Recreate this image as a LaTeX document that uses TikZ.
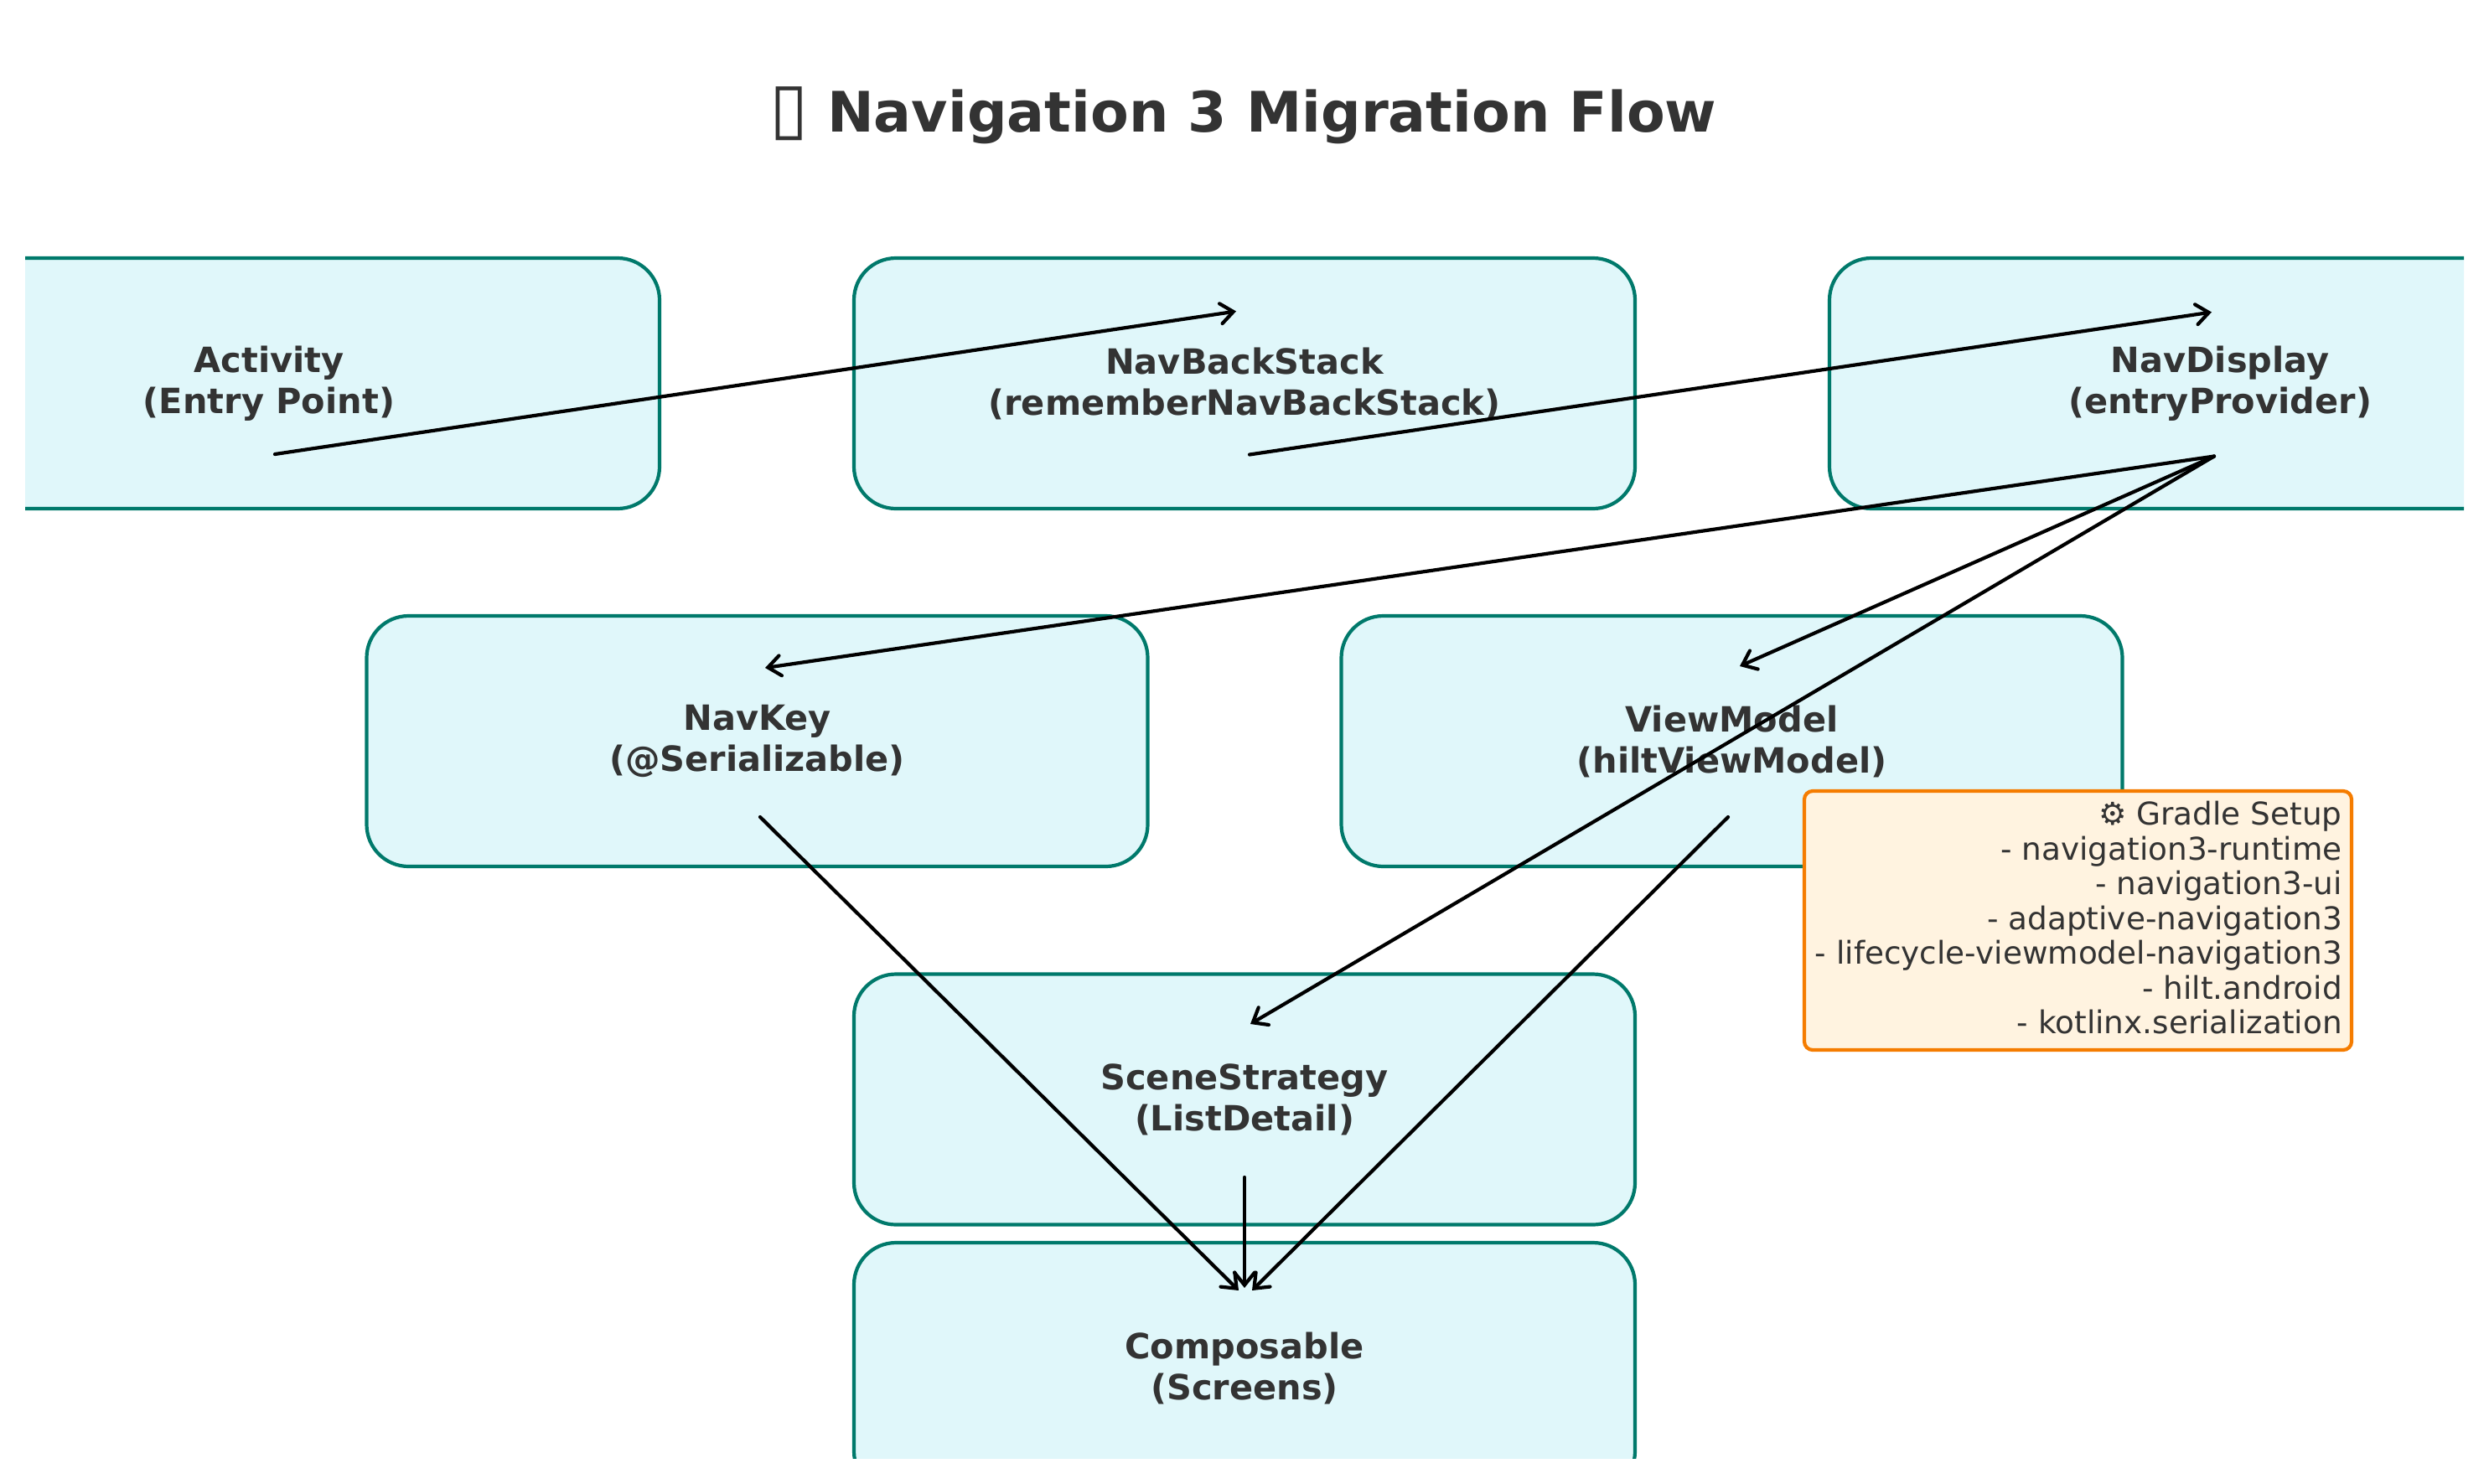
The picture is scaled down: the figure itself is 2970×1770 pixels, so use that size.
\documentclass[tikz,border=0pt]{standalone}
\usepackage{fontspec}
\setmainfont{DejaVu Sans}
\usetikzlibrary{arrows.meta}
\definecolor{boxfill}{HTML}{E0F7FA}
\definecolor{boxline}{HTML}{00796B}
\definecolor{notefill}{HTML}{FFF3E0}
\definecolor{noteline}{HTML}{F57C00}
\definecolor{ink}{HTML}{333333}
\tikzset{
  stagebox/.style={draw=boxline,fill=boxfill,line width=4.2pt,rounded corners=50pt,
    minimum width=932pt,minimum height=299pt,inner sep=0pt,align=center,text=ink,
    font=\bfseries\fontsize{41.5}{49}\selectfont},
  notebox/.style={draw=noteline,fill=notefill,line width=4.2pt,rounded corners=10pt,
    minimum width=653pt,minimum height=309pt,inner sep=0pt,text=ink,
    font=\fontsize{37.4}{41.5}\selectfont},
  titletext/.style={text=ink,inner sep=0pt,font=\bfseries\fontsize{66.6}{80}\selectfont},
  flow/.style={draw=black,line width=4.2pt,line cap=round,
    -{Straight Barb[length=15pt,width=24pt,line cap=round]}}
}
\begin{document}
\begin{tikzpicture}[x=1pt,y=-1pt]
\useasboundingbox (0,0) rectangle (2970,1770);
\fill[white] (0,0) rectangle (2970,1770);
\begin{scope}
\clip (30,30) rectangle (2940,1740);
\node[titletext] (title) at (1483.5,137.5) {{\fontsize{84}{80}\selectfont ▯}\hspace{-1pt} Navigation 3 Migration Flow};
\node[stagebox] (a) at (321,457.5) {Activity\\(Entry Point)};
\node[stagebox] (b) at (1485,457.5) {NavBackStack\\(rememberNavBackStack)};
\node[stagebox] (c) at (2649,457.5) {NavDisplay\\(entryProvider)};
\node[stagebox] (d) at (903.5,884.5) {NavKey\\(@Serializable)};
\node[stagebox] (e) at (2066.5,884.5) {ViewModel\\(hiltViewModel)};
\node[stagebox] (f) at (1485,1312) {SceneStrategy\\(ListDetail)};
\node[stagebox] (g) at (1485,1632.5) {Composable\\(Screens)};
\draw[flow] ([shift={(7,84.5)}]a.center) -- ([shift={(-10,-86)}]b.center);
\draw[flow] ([shift={(6,85)}]b.center) -- ([shift={(-10,-85)}]c.center);
\draw[flow] ([shift={(-7,87)}]c.center) -- ([shift={(9.5,-87.5)}]d.center);
\draw[flow] ([shift={(-7,87)}]c.center) -- ([shift={(9.5,-89.5)}]e.center);
\draw[flow] ([shift={(-7,87)}]c.center) -- ([shift={(7,-90)}]f.center);
\draw[flow] ([shift={(3.5,90.5)}]d.center) -- ([shift={(-7,-92.5)}]g.center);
\draw[flow] ([shift={(-4.5,90.5)}]e.center) -- ([shift={(9,-92.5)}]g.center);
\draw[flow] ([shift={(0,93)}]f.center) -- ([shift={(0,-95.5)}]g.center);
\node[notebox] (note) at (2479.5,1098.5) {\begin{tabular}{@{}r@{\hspace{-1.6pt}}}⚙ Gradle Setup\\- navigation3-runtime\\- navigation3-ui\\- adaptive-navigation3\\- lifecycle-viewmodel-navigation3\\- hilt.android\\- kotlinx.serialization\\[-5pt]\end{tabular}};
\end{scope}
\end{tikzpicture}
\end{document}
